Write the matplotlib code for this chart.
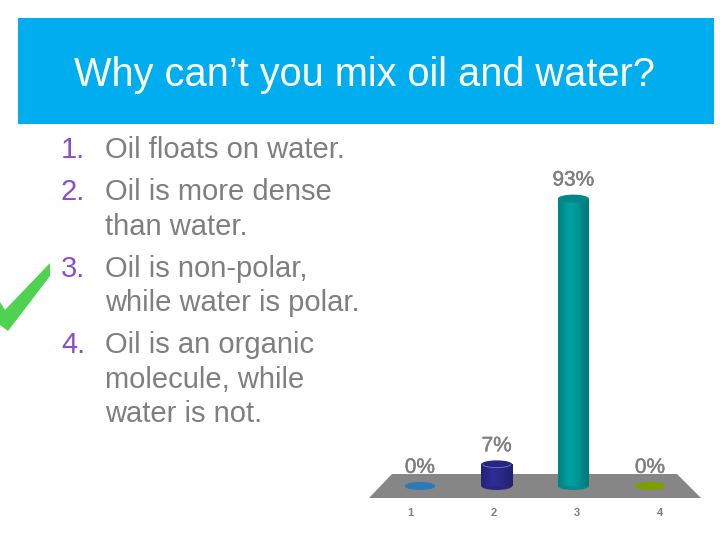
import numpy as np
import matplotlib
matplotlib.use('Agg')
import matplotlib.pyplot as plt
import matplotlib.patheffects as pe
from matplotlib.colors import to_rgb
from matplotlib.patches import Arc, Ellipse, Polygon, Rectangle

plt.rcParams['font.family'] = ['Liberation Sans', 'DejaVu Sans']

title = "Why can\u2019t you mix oil and water?"
numbers = ['1.', '2.', '3.', '4.']
answers = ['Oil floats on water.',
           'Oil is more dense\nthan water.',
           'Oil is non-polar,\nwhile water is polar.',
           'Oil is an organic\nmolecule, while\nwater is not.']

categories = [1, 2, 3, 4]
cat_labels = ['1', '2', '3', '4']
percents = [0, 7, 93, 0]
bar_colors = ['#2a7ab5', '#2b2b90', '#009b9b', '#7d9f00']

W, H = 720, 540
GRAY = '#7f7f7f'
PURPLE = '#8a4fc8'

fig = plt.figure(figsize=(7.2, 5.4), dpi=100, facecolor='white')

# slide background, pixel coordinates
bg = fig.add_axes([0, 0, 1, 1])
bg.set_xlim(0, W)
bg.set_ylim(H, 0)
bg.axis('off')

bg.add_patch(Rectangle((18, 18), 696, 106, color='#00aeef', lw=0))
bg.text(364, 75, title, color='#ffffff', fontsize=28.6, ha='center', va='center')

# numbered list
y = 158
line_h = 34.5
for num, ans in zip(numbers, answers):
    bg.text(61, y, num, color=PURPLE, fontsize=21, va='baseline')
    for line in ans.split('\n'):
        bg.text(105, y, line, color=GRAY, fontsize=21, va='baseline')
        y += line_h
    y += 7.6

# check mark
bg.add_patch(Polygon([(50, 263), (50, 276), (8, 331), (0, 325), (0, 302), (5, 310)],
                     closed=True, color='#4fd24f', lw=0))

# floor of the 3d chart
bg.add_patch(Polygon([(392, 474), (677, 474), (701, 498), (369, 498)],
                     closed=True, color='#868686', lw=0))

# chart axes sit on top of the floor
px_per_cat = 76.7
px_per_pct = 3.09
left, right, top, bottom = 369, 701, 150, 498
base_px = 486
ax = fig.add_axes([left / W, 1 - bottom / H, (right - left) / W, (bottom - top) / H])
ax.patch.set_alpha(0)
ax.set_xlim(1 + (left - 420) / px_per_cat, 1 + (right - 420) / px_per_cat)
ax.set_ylim(-(bottom - base_px) / px_per_pct, (base_px - top) / px_per_pct)
for s in ax.spines.values():
    s.set_visible(False)
ax.set_yticks([])

bar_w = 31 / px_per_cat
ell_h = 8 / px_per_pct
shade = np.array([0.85, 0.95, 1.05, 1.02, 0.95, 0.87, 0.78])[None, :, None]

for c, p, col in zip(categories, percents, bar_colors):
    rgb = np.array(to_rgb(col))
    if p > 0:
        body = ax.bar(c, p, width=bar_w, color=col, lw=0, zorder=2)[0]
        img = ax.imshow(np.clip(shade * rgb, 0, 1), extent=(c - bar_w / 2, c + bar_w / 2, 0, p),
                        aspect='auto', interpolation='bicubic', zorder=3)
        img.set_clip_path(body)
        # rounded bottom and top of the cylinder
        ax.add_patch(Ellipse((c, 0), bar_w, ell_h, color=rgb * 0.9, lw=0, zorder=1.5))
        ax.add_patch(Ellipse((c, p), bar_w, ell_h, color=rgb * 0.88, lw=0, zorder=4))
        # only the short bar shows a light rim
        if p < 50:
            ax.add_patch(Arc((c, p), bar_w * 0.9, ell_h * 0.8, theta1=180, theta2=360,
                             color=np.clip(rgb + 0.3, 0, 1), lw=0.6, zorder=5))
    else:
        ax.add_patch(Ellipse((c, 0), bar_w, ell_h, color=col, lw=0, zorder=2))
    ax.annotate(f'{p}%', (c, p), xytext=(0, 13.4), textcoords='offset points',
                ha='center', va='center', color=GRAY, fontsize=15,
                path_effects=[pe.withStroke(linewidth=0.3, foreground=GRAY)])

# labels below the floor are spread wider than the bars (perspective)
ax.set_xticks([2.5 + (c - 2.5) * 1.083 for c in categories], cat_labels)
ax.tick_params(axis='x', length=0, pad=7, labelsize=8, labelcolor=GRAY)
for lab in ax.get_xticklabels():
    lab.set_fontweight('bold')

fig.savefig('out.png', dpi=100)
